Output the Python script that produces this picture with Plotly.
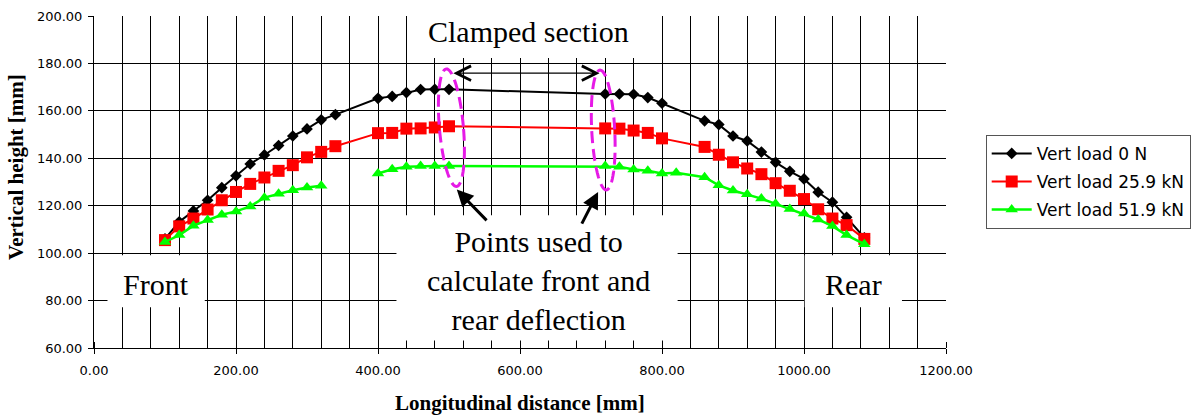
import math
import plotly.graph_objects as go

# Longitudinal position of each measuring point along the frame [mm]
DIST_MM = [100, 120, 140, 160, 180, 200, 220, 240, 260, 280, 300, 320, 340,
           400, 420, 440, 460, 480, 500,
           720, 740, 760, 780, 800, 820,
           860, 880, 900, 920, 940, 960, 980, 1000, 1020, 1040, 1060, 1085]

# Vertical height [mm] for each load case (None = no reading at that point)
HEIGHT_0N = [106.0, 113.2, 117.8, 122.3, 127.6, 132.6, 137.6, 141.4, 145.4, 149.4, 152.4, 156.2, 158.4,
             165.3, 166.1, 167.7, 169.0, 169.1, 169.1,
             167.1, 167.1, 167.0, 165.6, 163.2, None,
             155.8, 154.2, 149.4, 147.3, 142.6, 138.3, 134.5, 131.3, 125.7, 121.5, 115.1, 106.5]
HEIGHT_25_9KN = [105.5, 111.3, 114.6, 118.4, 122.3, 125.8, 129.2, 131.9, 134.7, 137.1, 140.4, 142.7, 145.1,
                 150.6, 150.7, 152.5, 152.6, 153.0, 153.5,
                 152.6, 152.5, 151.7, 150.7, 148.4, None,
                 144.8, 141.5, 138.3, 135.7, 133.3, 129.5, 126.3, 122.8, 118.5, 114.6, 111.8, 106.0]
HEIGHT_51_9KN = [104.7, 107.6, 111.6, 114.0, 116.2, 117.6, 119.7, 123.4, 125.0, 126.5, 127.7, 128.4, None,
                 133.6, 135.4, 136.4, 136.7, 136.7, 136.7,
                 136.7, 136.4, 135.3, 134.7, 133.6, 133.9,
                 132.0, 128.6, 126.4, 124.8, 123.0, 120.8, 118.6, 116.7, 114.2, 111.4, 107.6, 103.8]

SERIES_NAMES = ["Vert load 0 N", "Vert load 25.9 kN", "Vert load 51.9 kN"]
X_TICKS = [0, 200, 400, 600, 800, 1000, 1200]
Y_TICKS = [60, 80, 100, 120, 140, 160, 180, 200]

# Figure geometry
W, H = 1193, 417
M_L, M_R, M_T, M_B = 94, 247, 16, 69
X_RANGE = (0, 1200)
Y_RANGE = (60, 200)
PX_PER_MM_X = (W - M_L - M_R) / (X_RANGE[1] - X_RANGE[0])
PX_PER_MM_Y = (H - M_T - M_B) / (Y_RANGE[1] - Y_RANGE[0])

SERIF = "Liberation Serif, Times New Roman, serif"
SANS = "DejaVu Sans, Arial, sans-serif"

fig = go.Figure()

styles = [
    dict(color="#000000", symbol="diamond", size=9, width=2, gaps=True),
    dict(color="#FF0000", symbol="square", size=12, width=2, gaps=True),
    dict(color="#00FF00", symbol="triangle-up", size=11, width=2.5, gaps=False),
]
for name, ys, st in zip(SERIES_NAMES, [HEIGHT_0N, HEIGHT_25_9KN, HEIGHT_51_9KN], styles):
    fig.add_trace(go.Scatter(
        x=DIST_MM, y=ys, name=name, mode="lines+markers",
        connectgaps=st["gaps"], legendgroup=name,
        line=dict(color=st["color"], width=st["width"]),
        marker=dict(symbol=st["symbol"], size=st["size"], color=st["color"],
                    line=dict(width=0)),
    ))


def tilted_ellipse(cx, cy, half_w_px, half_h_px, tilt_deg, n=72):
    """SVG path (data units) of an ellipse whose size is given in screen pixels."""
    th = math.radians(tilt_deg)
    pts = []
    for i in range(n):
        t = 2 * math.pi * i / n
        u = half_w_px * math.cos(t)
        v = half_h_px * math.sin(t)
        xp = u * math.cos(th) - v * math.sin(th)
        yp = u * math.sin(th) + v * math.cos(th)
        pts.append((cx + xp / PX_PER_MM_X, cy + yp / PX_PER_MM_Y))
    return "M " + " L ".join(f"{x:.2f},{y:.3f}" for x, y in pts) + " Z"


shapes = []
# White label panels covering the grid
for x0, x1, y0, y1 in [(19, 156, 77.2, 99.1),      # Front
                       (1001, 1138, 77.2, 99.1),   # Rear
                       (426, 822, 63.2, 116.0),    # Points used to ...
                       (447, 792, 182.3, 200.0)]:  # Clamped section
    shapes.append(dict(type="rect", xref="x", yref="y", x0=x0, x1=x1, y0=y0, y1=y1,
                       fillcolor="white", line=dict(width=0), layer="between"))
# Dashed rings around the points used for the deflection calculation
for cx, cy, hw, hh, tilt in [(503.4, 152.9, 12, 59, 5), (717.2, 151.9, 11.5, 60, 3)]:
    shapes.append(dict(type="path", xref="x", yref="y",
                       path=tilted_ellipse(cx, cy, hw, hh, tilt),
                       line=dict(color="#E619E6", width=3, dash="12px,6px"),
                       fillcolor="rgba(0,0,0,0)", layer="above"))

annotations = [
    dict(text="Clamped section", x=612, y=193.5, xref="x", yref="y", showarrow=False,
         font=dict(family=SERIF, size=30, color="black")),
    dict(text="Front", x=87, y=86.6, xref="x", yref="y", showarrow=False,
         font=dict(family=SERIF, size=30, color="black")),
    dict(text="Rear", x=1070, y=86.6, xref="x", yref="y", showarrow=False,
         font=dict(family=SERIF, size=30, color="black")),
    dict(text="Points used to<br>calculate front and<br>rear deflection", x=626, y=88.6,
         xref="x", yref="y", showarrow=False, align="center",
         font=dict(family=SERIF, size=30, color="black")),
    # Double-headed arrow spanning the clamped section
    dict(text="", x=712, y=175.9, ax=504, ay=175.9, xref="x", yref="y", axref="x", ayref="y",
         showarrow=True, arrowside="end+start", arrowhead=5, startarrowhead=5,
         arrowsize=2.2, startarrowsize=2.2, arrowwidth=1.3, arrowcolor="black"),
    # Pointers from the note to the rings
    dict(text="", x=511, y=126.8, ax=555, ay=113.2, xref="x", yref="y", axref="x", ayref="y",
         showarrow=True, arrowhead=2, arrowsize=1.1, arrowwidth=3, arrowcolor="black"),
    dict(text="", x=710, y=125.8, ax=686, ay=111.8, xref="x", yref="y", axref="x", ayref="y",
         showarrow=True, arrowhead=2, arrowsize=1.1, arrowwidth=3, arrowcolor="black"),
    # Axis titles
    dict(text="<b>Longitudinal distance [mm]</b>", xref="paper", yref="paper", x=0.5, y=0,
         xanchor="center", yanchor="middle", yshift=-55, showarrow=False,
         font=dict(family=SERIF, size=21, color="black")),
    dict(text="<b>Vertical height [mm]</b>", xref="paper", yref="paper", x=0, y=0.545,
         xanchor="center", yanchor="middle", xshift=-78, textangle=-90, showarrow=False,
         font=dict(family=SERIF, size=21, color="black")),
]

fig.update_layout(
    width=W, height=H,
    margin=dict(l=M_L, r=M_R, t=M_T, b=M_B, autoexpand=False),
    paper_bgcolor="white", plot_bgcolor="white",
    shapes=shapes, annotations=annotations,
    showlegend=True,
    legend=dict(x=1.0466, y=0.642, xanchor="left", yanchor="top",
                bgcolor="white", bordercolor="#555555", borderwidth=1,
                font=dict(family=SANS, size=17, color="black"),
                tracegroupgap=3, traceorder="grouped", itemwidth=40),
    xaxis=dict(range=list(X_RANGE), tickvals=X_TICKS, tickformat=".2f",
               showgrid=False, zeroline=False,
               showline=True, linecolor="black", linewidth=1,
               ticks="outside", ticklen=5, tickcolor="black", ticklabelstandoff=5,
               tickfont=dict(family=SANS, size=13, color="black"),
               minor=dict(dtick=40, tick0=0, showgrid=True, gridcolor="black", gridwidth=1,
                          ticks="inside", ticklen=6, tickcolor="black")),
    yaxis=dict(range=list(Y_RANGE), tickvals=Y_TICKS, tickformat=".2f",
               showgrid=True, gridcolor="black", gridwidth=1, zeroline=False,
               showline=True, linecolor="black", linewidth=1,
               ticks="outside", ticklen=5, tickcolor="black", ticklabelstandoff=3,
               tickfont=dict(family=SANS, size=13, color="black")),
)

fig.write_html("out.html")
